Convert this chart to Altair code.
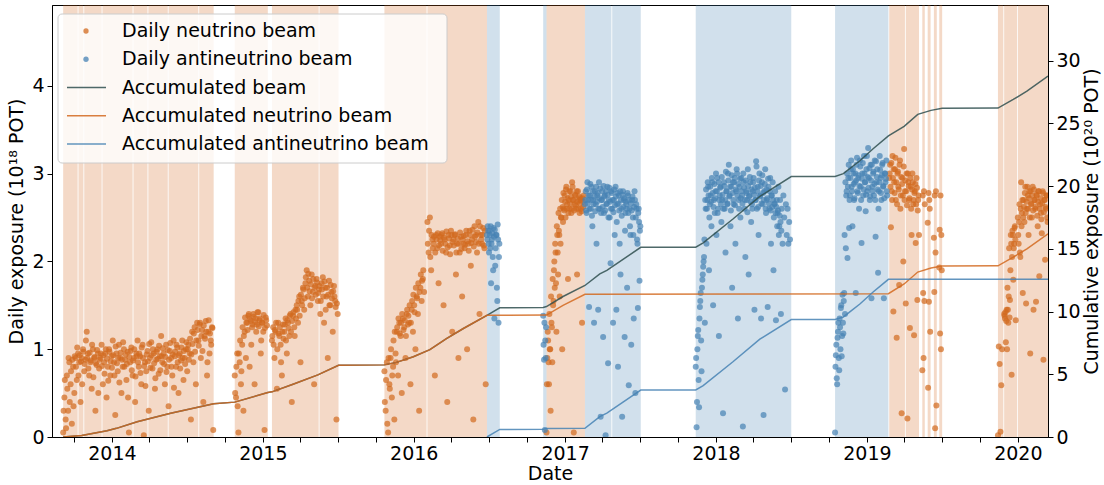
import altair as alt
import pandas as pd

ORANGE = "#d2691e"
BLUE = "#4682b4"
DARK = "#2f4f4f"
FONT = "DejaVu Sans"

# ---------------- shaded beam periods ----------------
nu_band_start = ["2013-09-05", "2013-10-12", "2013-10-26", "2013-12-09", "2014-02-22", "2014-03-30",
                 "2014-05-18", "2014-07-31", "2014-10-25", "2015-01-23", "2015-05-18", "2015-10-22",
                 "2016-02-03", "2016-11-17", "2019-02-24", "2019-04-05", "2019-05-15", "2019-05-28",
                 "2019-06-12", "2019-06-25", "2019-11-14", "2019-11-29", "2020-01-01"]
nu_band_end = ["2013-10-10", "2013-10-24", "2013-12-07", "2014-02-20", "2014-03-28", "2014-05-16",
               "2014-07-29", "2014-09-04", "2015-01-13", "2015-05-16", "2015-07-03", "2016-02-01",
               "2016-06-26", "2017-02-18", "2019-04-03", "2019-05-07", "2019-05-21", "2019-06-04",
               "2019-06-19", "2019-07-02", "2019-11-27", "2019-12-30", "2020-03-14"]
anu_band_start = ["2016-06-26", "2016-11-09", "2017-02-18", "2017-04-25", "2017-11-13", "2018-10-16"]
anu_band_end = ["2016-07-27", "2016-11-17", "2017-04-23", "2017-07-03", "2018-07-02", "2019-02-22"]

# ---------------- daily exposure (1e18 POT) ----------------
nu_o1 = [0.05, 0.45, 0.2, 0.7, 0.3, 0.85, 0.6, 0.15, 0.8, 0.5,
         0.9, 0.65, 0.95, 0.85, 0.4, 0.9, 1.0, 0.75, 0.88, 1.2,
         0.95, 0.7, 0.85, 0.55, 1.0, 0.9, 0.3, 0.82, 0.95, 0.78,
         0.9, 1.05, 0.6, 0.85, 0.95, 0.45, 0.8, 1.0, 0.7, 0.92,
         1.1, 0.85, 0.25, 0.95, 0.75, 1.05, 0.9, 0.5, 0.8, 1.0,
         0.88, 0.65, 0.97, 0.05, 0.85, 1.02, 0.7, 0.9, 0.4, 0.95,
         1.1, 0.8, 0.92, 0.6, 1.05, 0.02, 0.85, 0.75, 0.98, 0.3,
         0.9, 1.08, 0.78, 0.95, 0.55, 0.88, 1.0, 0.72, 0.92, 1.15,
         0.85, 0.95, 0.6, 1.05, 0.8, 0.35, 0.98, 0.9, 0.7, 1.1,
         0.92, 0.8, 1.02, 0.5, 0.95, 0.87, 1.1, 0.65, 0.9, 1.0,
         0.75, 1.05, 0.95, 0.2, 1.2, 0.85, 1.25, 0.6, 1.3, 1.1,
         1.28, 0.9, 1.22, 0.4, 1.15, 1.32, 0.7, 1.2, 0.95, 1.1, 1.25, 0.08]
nu_o1_fill = [0.3, 0.65, 0.1, 0.55, 0.9, 0.4, 0.75, 0.88, 0.35, 0.92,
              0.8, 1.02, 0.7, 0.93, 0.86, 0.6, 0.97, 0.83, 1.1, 0.9,
              0.78, 0.96, 0.87, 1.05, 0.68, 0.91, 0.84, 0.99, 0.5, 0.88,
              0.95, 0.81, 0.93, 0.72, 1.0, 0.89, 0.64, 0.97, 0.86, 0.79,
              0.93, 0.7, 1.03, 0.84, 0.9, 0.62, 0.96, 0.88, 1.08, 0.8,
              0.94, 0.83, 0.45, 0.91, 0.98, 0.76, 0.87, 1.0, 0.69, 0.92,
              0.85, 0.95, 0.73, 1.02, 0.9, 0.81, 0.58, 0.94, 0.86, 1.06,
              0.79, 0.93, 1.0, 0.84, 0.67, 0.97, 0.89, 1.04, 0.76, 0.92,
              1.01, 0.83, 0.91, 0.74, 0.99, 0.88, 1.07, 0.8, 0.94, 0.56,
              0.97, 1.05, 0.85, 0.93, 0.78, 1.02, 0.9, 0.98, 0.83, 1.08,
              1.0, 0.88, 1.12, 0.94, 1.06, 1.18, 0.97, 1.1, 1.22, 1.04,
              1.3, 1.15, 0.98, 1.27, 1.12, 1.2, 0.85, 1.33, 1.18, 1.05, 1.24]
nu_o2a = [0.7, 0.45, 0.95, 0.05, 0.85, 0.6, 1.05, 0.3, 1.2, 0.9, 1.3, 1.38, 0.8, 1.32, 1.25,
          1.4, 0.6, 1.35, 1.28, 1.42, 1.33, 0.95, 1.3, 1.2, 0.08, 1.36, 1.27]
nu_o2a_fill = [0.5, 0.8, 0.35, 0.95, 1.1, 0.75, 1.25, 1.15, 1.36, 1.3, 1.22, 1.4, 1.34, 1.05,
               1.28, 1.37, 1.31, 1.2, 1.42, 1.26, 1.35, 1.1, 1.3, 1.39, 1.24, 1.33]
nu_o2b = [1.1, 1.25, 0.9, 1.2, 0.55, 1.3, 1.15, 1.05, 0.7, 1.28,
          1.2, 1.35, 0.95, 1.3, 1.15, 1.4, 0.4, 1.38, 1.25, 1.45,
          1.5, 1.3, 1.6, 0.85, 1.55, 1.7, 1.45, 1.75, 1.9, 1.6,
          1.78, 1.5, 1.85, 1.65, 0.6, 1.72, 1.8, 1.55, 1.68, 1.4,
          1.75, 1.82, 1.3, 1.7, 1.6, 0.9, 1.78, 1.5, 1.65, 1.2,
          1.72, 1.55, 0.2, 1.4]
nu_o2b_fill = [1.15, 1.05, 1.22, 1.3, 1.0, 1.18, 1.25, 0.85, 1.2, 1.12,
               1.28, 1.1, 1.33, 1.24, 1.38, 1.2, 1.32, 1.42, 1.15, 1.35,
               1.45, 1.55, 1.38, 1.62, 1.5, 1.68, 1.58, 1.82, 1.7, 1.86,
               1.66, 1.74, 1.58, 1.8, 1.7, 1.62, 1.76, 1.64, 1.72, 1.55,
               1.68, 1.6, 1.77, 1.45, 1.7, 1.62, 1.5, 1.73, 1.58, 1.66,
               1.6, 1.48, 1.52]
nu_o3a = [0.75, 0.3, 0.85, 0.05, 0.6, 0.9, 0.45, 0.8, 0.2, 0.95,
          1.2, 0.7, 1.3, 1.15, 0.5, 1.35, 1.25, 0.9, 1.4, 1.28,
          1.3, 0.6, 1.45, 1.2, 1.5, 1.0, 1.6, 1.4, 0.3, 1.7,
          1.55, 1.8, 1.65]
nu_o3a_fill = [0.4, 0.65, 0.15, 0.9, 0.55, 1.0, 0.7, 1.1, 1.2, 0.85, 1.25, 1.35, 1.18, 1.3, 1.4,
               1.22, 1.33, 1.15, 1.45, 1.38, 1.5, 1.3, 1.55, 1.62, 1.42, 1.7, 1.58, 1.75, 1.65,
               1.85, 1.78, 1.9]
nu_o3b = [2.45, 2.1, 2.5, 1.9, 2.25, 2.2, 0.7, 2.3, 2.15, 1.75,
          2.28, 2.2, 2.32, 1.5, 2.25, 2.1, 0.4, 2.3, 2.18, 2.35,
          1.2, 2.25, 2.3, 1.85, 2.2, 0.9, 2.1, 2.28, 1.6, 2.2,
          2.15, 2.3, 1.0, 2.2, 2.35, 1.95, 2.25, 0.2, 2.4, 2.3,
          2.1, 2.45, 1.4, 2.3, 2.2, 2.38, 2.15, 0.6]
nu_o3b_fill = [2.2, 2.35, 2.05, 2.3, 2.15, 2.28, 2.1, 2.25, 2.32, 2.18,
               2.24, 2.3, 2.12, 2.27, 2.2, 2.34, 2.16, 2.26, 2.08, 2.3,
               2.22, 2.18, 2.31, 2.1, 2.26, 2.2, 2.33, 2.14, 2.25, 2.29,
               2.19, 2.35, 2.23, 2.12, 2.3, 2.21, 2.36, 2.17, 2.28, 2.22,
               2.33, 2.2, 2.4, 2.25, 2.3, 2.18, 2.35]
nu_o4 = [0.05, 0.9, 1.1, 0.6, 1.0, 0.3, 1.3, 0.85, 1.5,
         1.9, 1.7, 2.1, 1.2, 2.3, 1.85, 2.35, 1.6, 2.2, 2.5, 1.0, 2.45,
         2.6, 2.75, 2.5, 2.85, 2.65, 1.8, 2.7, 2.6, 2.8, 2.55, 2.9, 2.7, 0.05, 2.65, 2.75, 2.6,
         1.85, 2.8, 2.7, 2.55, 2.72, 2.6, 1.3, 2.68, 2.75]
nu_o4_fill = [0.6, 1.2, 0.85, 1.4, 1.0, 1.6, 1.25, 1.8, 1.55,
              2.0, 2.2, 1.75, 2.4, 2.1, 2.55, 2.3, 2.6, 2.5, 2.7, 2.62, 2.78,
              2.58, 2.68, 2.82, 2.6, 2.72, 2.55, 2.8, 2.66, 2.74, 2.6, 2.85, 2.7, 2.58, 2.76, 2.64,
              2.8, 2.68, 2.6, 2.74, 2.66, 2.7, 2.57, 2.72, 2.62]
nu_o5a = [2.95, 3.1, 2.39, 2.8, 3.2, 1.43, 2.9, 3.05, 2.7, 1.13, 3.0, 2.85, 1.73, 3.15, 2.75, 0.27,
          2.95, 2.0, 3.28, 2.8, 1.52, 3.0, 0.21, 2.9, 2.7, 1.24, 2.85, 2.3, 3.0, 2.65, 1.16, 2.8,
          2.21, 2.95, 1.56, 2.7, 2.3]
nu_o5a_fill = [3.0, 2.85, 3.12, 2.7, 2.95, 3.05, 2.78, 3.18, 2.9, 2.65,
               3.02, 2.82, 3.1, 2.6, 2.96, 2.88, 2.75, 3.08, 2.7, 2.92,
               2.8, 2.64, 3.0, 2.86, 2.72, 2.95, 2.6, 2.82, 2.9, 2.7,
               2.78, 2.88, 2.65, 2.84, 2.58, 2.75]
nu_o5b = [0.76, 2.75, 1.64, 0.9, 2.8, 1.55, 2.65]
nu_o5c = [2.44, 0.56, 2.78, 1.54, 2.7, 2.6, 1.2]
nu_o5d = [2.27, 1.65, 2.75, 0.1, 2.1, 2.8, 0.36]
nu_o5e = [1.93, 2.36, 1.18, 2.75, 1.0, 2.3, 1.9]
nu_o6a = [0.02, 1.03, 0.83, 0.06, 0.59, 1.0]
nu_o6b = [1.4, 1.35, 1.08, 1.45, 1.7, 1.3, 2.15, 1.56, 2.3, 0.71, 2.35, 1.79, 2.2, 2.4, 1.33]
nu_o6b_fill = [1.38, 1.42, 1.32, 1.0, 1.45, 1.6, 1.36, 1.9, 2.2, 2.05, 2.3, 2.15, 2.38, 2.25]
nu_o6c = [2.5, 2.2, 2.65, 2.05, 2.9, 2.55, 1.64, 2.7, 2.45, 2.85, 1.52, 2.6, 2.75, 2.3, 2.8, 0.95,
          2.65, 2.5, 2.85, 1.45, 2.7, 2.6, 1.54, 2.75, 2.4, 2.8, 1.83, 2.65, 2.55, 2.32, 2.8, 0.88,
          2.7, 2.02, 2.6, 2.75, 2.45]
nu_o6c_fill = [2.3, 2.45, 2.1, 2.6, 2.4, 2.7, 2.5, 2.62, 2.78, 2.55,
               2.68, 2.85, 2.6, 2.72, 2.5, 2.8, 2.66, 2.75, 2.58, 2.82,
               2.7, 2.62, 2.76, 2.52, 2.68, 2.8, 2.6, 2.72, 2.48, 2.66,
               2.78, 2.56, 2.7, 2.62, 2.75, 2.5]
nu_seg_start = ["2013-09-05", "2013-09-06", "2014-10-25", "2014-10-26", "2015-01-23", "2015-01-24",
                "2015-10-22", "2015-10-23", "2016-02-03", "2016-02-04", "2016-11-17", "2016-11-18",
                "2019-02-24", "2019-02-25", "2019-05-15", "2019-05-28", "2019-06-12", "2019-06-25",
                "2019-11-14", "2019-11-29", "2019-11-30", "2020-01-01", "2020-01-02"]
nu_seg_step = [3, 3, 3, 3, 3, 3, 3, 3, 3, 3, 2, 2, 2, 2, 1, 1, 1, 1, 2, 2, 2, 2, 2]
nu_seg_vals = [nu_o1, nu_o1_fill, nu_o2a, nu_o2a_fill, nu_o2b, nu_o2b_fill, nu_o3a, nu_o3a_fill,
               nu_o3b, nu_o3b_fill, nu_o4, nu_o4_fill, nu_o5a, nu_o5a_fill, nu_o5b, nu_o5c,
               nu_o5d, nu_o5e, nu_o6a, nu_o6b, nu_o6b_fill, nu_o6c, nu_o6c_fill]

anu_b1 = [2.3, 2.4, 2.2, 2.35, 2.15, 1.75, 2.25, 2.05, 2.38, 1.35, 1.95, 2.3, 1.7, 2.42, 1.3, 2.2]
anu_b1_fill = [2.25, 2.35, 2.1, 2.3, 2.4, 2.2, 2.32, 1.9, 2.28, 2.36, 2.15, 2.3, 1.55, 2.25, 2.05]
anu_b2 = [1.38, 1.05, 0.88, 1.3, 0.08, 1.1, 0.9, 1.25]
anu_b3 = [2.65, 2.8, 2.55, 2.9, 2.7, 1.48, 2.75, 2.6, 2.85, 2.4, 2.7, 1.3, 2.8, 2.65, 2.2, 2.75,
          1.45, 2.9, 2.6, 0.23, 2.7, 2.8, 1.14, 2.55, 2.75, 0.02, 2.65, 2.85, 0.84, 2.7,
          2.5, 1.98, 2.8, 2.6, 1.3, 2.7, 2.3, 2.85, 1.45, 2.65, 0.8, 2.75, 2.2, 1.85, 2.6, 0.23,
          2.8, 2.7, 1.14, 2.55, 2.65, 1.7, 2.75, 0.59, 2.6, 2.3, 1.05, 2.7, 2.5, 1.35, 2.8, 0.5,
          2.65, 2.25, 1.47, 2.6, 1.78, 2.4]
anu_b3_fill = [2.7, 2.58, 2.82, 2.66, 2.75, 2.6, 2.88, 2.7, 2.52, 2.8,
               2.65, 2.74, 2.57, 2.85, 2.68, 2.78, 2.6, 2.72, 2.83, 2.55,
               2.7, 2.62, 2.86, 2.74, 2.58, 2.8, 2.66, 2.76, 2.5, 2.84,
               2.68, 2.6, 2.78, 2.7, 2.56, 2.82, 2.64, 2.74, 2.45, 2.78,
               2.66, 2.58, 2.8, 2.7, 2.52, 2.76, 2.62, 2.72, 2.35, 2.68,
               2.6, 2.78, 2.55, 2.7, 2.4, 2.66, 2.58, 2.74, 2.3, 2.62,
               2.7, 2.5, 2.6, 2.2, 2.55, 2.45, 2.35]
anu_b4 = [0.8, 0.11, 1.0, 1.22, 0.34, 1.48, 1.64, 0.75, 1.79, 1.94, 2.05, 1.3,
          2.6, 2.2, 2.7, 2.85, 1.9, 2.65, 2.75, 2.4, 2.9, 1.5, 2.7, 2.55, 2.8, 2.3, 2.95, 2.6,
          1.15, 2.75, 2.85, 2.45, 2.7, 0.27, 2.9, 2.6, 2.1, 2.8, 2.65, 3.0,
          3.1, 2.75, 2.4, 2.85, 1.7, 2.9, 2.65, 2.95, 2.2, 2.8, 3.0, 1.35, 2.7, 2.85, 2.5, 2.95,
          2.75, 0.12, 2.9, 2.6, 2.05, 2.8, 2.7, 3.05, 1.85, 2.75, 2.9, 2.45, 2.65,
          2.8, 2.95, 1.45, 2.7, 3.14, 2.6, 2.85, 2.3, 3.0, 2.75, 1.35, 2.9, 2.65, 0.25, 2.8, 3.05,
          2.55, 2.7, 1.48, 2.85, 2.6, 2.95, 2.2, 2.75, 2.9, 1.9, 2.65, 2.8, 1.33, 2.7,
          2.55, 2.85, 2.4, 2.7, 1.4, 2.6, 2.2, 2.75, 2.5, 0.54, 2.65, 2.3, 2.6, 2.2, 2.45, 2.25]
anu_b4_fill = [0.9, 0.4, 1.15, 0.65, 1.35, 1.55, 1.1, 1.7, 1.85, 2.0, 2.25,
               2.7, 2.82, 2.6, 2.9, 2.75, 2.5, 2.85, 2.68, 2.95, 2.78,
               2.62, 2.88, 2.72, 3.0, 2.8, 2.55, 2.9, 2.7, 2.84, 2.65,
               2.96, 2.76, 2.6, 2.86, 2.7, 3.02, 2.8, 2.66, 2.92, 2.74,
               2.85, 2.58, 2.98, 2.78, 2.7, 2.9, 2.64, 2.82, 3.05, 2.75,
               2.88, 2.6, 2.94, 2.72, 2.8, 2.66, 3.0, 2.84, 2.7, 2.92,
               2.78, 2.56, 2.86, 2.74, 2.96, 2.68, 2.82, 2.6, 2.9, 2.76,
               2.84, 2.7, 3.08, 2.8, 2.62, 2.92, 2.74, 2.86, 2.66, 2.98,
               2.78, 2.7, 2.88, 2.6, 2.82, 2.72, 2.94, 2.66, 2.8, 2.58,
               2.75, 2.62, 2.7, 2.5, 2.66, 2.55, 2.62, 2.4, 2.58, 2.3,
               2.52, 2.45, 2.35]
anu_b5 = [0.05, 0.93, 0.67, 1.13, 1.3, 0.76, 1.25, 1.47, 0.92, 1.62, 1.18, 1.64, 1.4,
          2.15, 2.8, 2.04, 2.95, 2.38, 2.75, 3.05, 2.85, 2.4, 3.0, 2.7, 2.9, 1.64, 3.1, 2.8, 2.95,
          2.6, 3.15, 2.85, 2.21, 3.0, 2.75, 3.2, 2.9, 2.57, 3.05,
          2.8, 3.29, 2.95, 2.7, 3.1, 1.58, 2.85, 3.0, 2.75, 3.15, 2.28, 2.9, 3.05, 1.87, 2.8, 3.2,
          2.95, 2.7, 3.1, 2.85, 1.58, 3.0, 2.9, 3.15, 2.75]
anu_b5_fill = [0.8, 1.05, 0.6, 1.2, 0.9, 1.35, 1.0, 1.5, 1.15, 1.3, 1.55, 2.3,
               2.9, 2.75, 3.0, 2.85, 3.1, 2.7, 2.95, 3.15, 2.8, 3.05,
               2.88, 2.72, 3.0, 2.92, 3.18, 2.78, 2.98, 2.86, 3.08, 2.7,
               2.94, 3.12, 2.82, 3.0, 2.9, 2.76, 3.2, 2.96, 2.84, 3.06,
               2.74, 2.92, 3.1, 2.8, 3.02, 2.88, 2.7, 3.14, 2.96, 2.82, 2.6,
               2.9, 3.04, 2.78, 2.98, 3.12, 2.86, 2.72, 3.0, 2.94, 2.8]
anu_seg_start = ["2016-06-26", "2016-06-27", "2016-11-09", "2017-02-18", "2017-02-19",
                 "2017-11-13", "2017-11-14", "2018-10-16", "2018-10-17"]
anu_seg_step = [2, 2, 1, 2, 2, 2, 2, 2, 2]
anu_seg_vals = [anu_b1, anu_b1_fill, anu_b2, anu_b3, anu_b3_fill, anu_b4, anu_b4_fill,
                anu_b5, anu_b5_fill]

# ---------------- accumulated exposure (1e20 POT) ----------------
nu_cum_dates = ["2013-09-05", "2013-10-20", "2013-12-20", "2014-01-12", "2014-03-03", "2014-05-23",
                "2014-09-04", "2014-10-25", "2015-01-13", "2015-01-23", "2015-03-15", "2015-05-14",
                "2015-07-03", "2015-10-22", "2015-11-20", "2015-12-31", "2016-02-09", "2016-03-20",
                "2016-04-30", "2016-06-26", "2016-11-17", "2016-12-27", "2017-02-18", "2019-02-22",
                "2019-04-01", "2019-05-04", "2019-06-05", "2019-07-02", "2019-11-14", "2019-12-21",
                "2020-01-23", "2020-03-14"]
nu_cum = [0.0, 0.12, 0.5, 0.69, 1.22, 1.89, 2.65, 2.78, 3.55, 3.6, 4.2, 4.95, 5.72, 5.75, 5.95,
          6.4, 6.97, 7.85, 8.65, 9.7, 9.72, 10.5, 11.38, 11.42, 12.2, 13.15, 13.47, 13.63, 13.65,
          14.34, 15.0, 16.2]
anu_cum_dates = ["2016-06-26", "2016-07-27", "2016-11-09", "2016-11-17", "2017-02-18", "2017-03-26",
                 "2017-04-12", "2017-05-22", "2017-07-03", "2017-11-13", "2017-12-01", "2018-02-11",
                 "2018-04-17", "2018-07-02", "2018-10-16", "2018-11-05", "2018-12-15", "2019-01-16",
                 "2019-02-22", "2020-03-14"]
anu_cum = [0.0, 0.6, 0.62, 0.68, 0.7, 1.62, 1.9, 2.8, 3.74, 3.75, 4.1, 6.0, 7.8, 9.36, 9.37, 9.57,
           10.6, 11.56, 12.57, 12.57]
tot_cum_dates = nu_cum_dates[:20] + [
    "2016-07-27", "2016-11-09", "2016-11-17", "2016-12-27", "2017-02-18", "2017-03-26",
    "2017-04-12", "2017-05-22", "2017-07-03", "2017-11-13", "2017-12-01", "2018-02-11",
    "2018-04-17", "2018-07-02", "2018-10-16", "2018-11-05", "2018-12-15", "2019-01-16",
    "2019-02-22", "2019-04-01", "2019-05-04", "2019-06-05", "2019-07-02", "2019-11-14",
    "2019-12-21", "2020-01-23", "2020-03-14"]
tot_cum = nu_cum[:20] + [10.3, 10.32, 10.4, 11.2, 12.08, 13.0, 13.28, 14.18, 15.12, 15.13, 15.48,
                         17.38, 19.18, 20.76, 20.77, 21.0, 22.02, 22.98, 24.0, 24.77, 25.72,
                         26.04, 26.2, 26.22, 26.91, 27.57, 28.77]

legend_labels = ["Daily neutrino beam", "Daily antineutrino beam", "Accumulated beam",
                 "Accumulated neutrino beam", "Accumulated antineutrino beam"]
legend_colors = [ORANGE, BLUE, DARK, ORANGE, BLUE]
legend_kind = ["point", "point", "line", "line", "line"]

x_ticks = [f"{y}-{m:02d}-01" for y in range(2013, 2021) for m in (1, 4, 7, 10)
           if "2013-10-01" <= f"{y}-{m:02d}-01" <= "2020-01-01"]

# ---------------- frames ----------------
def seg_frame(starts, steps, vals_list, color):
    frames = []
    for s, st, v in zip(starts, steps, vals_list):
        d = pd.date_range(s, periods=len(v), freq=f"{st}D")
        frames.append(pd.DataFrame({"date": d, "value": v, "col": color}))
    return pd.concat(frames, ignore_index=True)

points_df = pd.concat([seg_frame(nu_seg_start, nu_seg_step, nu_seg_vals, ORANGE),
                       seg_frame(anu_seg_start, anu_seg_step, anu_seg_vals, BLUE)],
                      ignore_index=True)

bands_df = pd.concat([
    pd.DataFrame({"start": pd.to_datetime(nu_band_start), "end": pd.to_datetime(nu_band_end), "col": ORANGE}),
    pd.DataFrame({"start": pd.to_datetime(anu_band_start), "end": pd.to_datetime(anu_band_end), "col": BLUE}),
], ignore_index=True)

tot_df = pd.DataFrame({"date": pd.to_datetime(tot_cum_dates), "cum": tot_cum})
nu_df = pd.DataFrame({"date": pd.to_datetime(nu_cum_dates), "cum": nu_cum})
anu_df = pd.DataFrame({"date": pd.to_datetime(anu_cum_dates), "cum": anu_cum})

leg_df = pd.DataFrame({"label": legend_labels, "col": legend_colors, "kind": legend_kind,
                       "i": list(range(len(legend_labels)))})

# ---------------- scales / axes ----------------
xscale = alt.Scale(domain=[alt.DateTime(year=2013, month=8, date=9),
                           alt.DateTime(year=2020, month=3, date=14)], nice=False)
xaxis = alt.Axis(title="Date",
                 values=[alt.DateTime(year=int(t[:4]), month=int(t[5:7]), date=1) for t in x_ticks],
                 labelExpr="month(datum.value) === 0 ? timeFormat(datum.value, '%Y') : ''",
                 labelPadding=2, titlePadding=1, labelFlush=False, labelOverlap=False)
yl_scale = alt.Scale(domain=[0, 4.92], nice=False, zero=True)
yl_axis = alt.Axis(orient="left", values=[0, 1, 2, 3, 4], format="d",
                   title="Daily exposure (10¹⁸ POT)", titlePadding=5, labelPadding=3)
yr_scale = alt.Scale(domain=[0, 34.44], nice=False, zero=True)
yr_axis = alt.Axis(orient="right", values=[0, 5, 10, 15, 20, 25, 30], format="d",
                   title="Cumulative exposure (10²⁰ POT)", titleAngle=270, titleBaseline="top",
                   titlePadding=2, labelPadding=3)

bands = alt.Chart(bands_df).mark_rect(opacity=0.25, clip=True).encode(
    x=alt.X("start:T", scale=xscale, axis=xaxis),
    x2="end:T",
    color=alt.Color("col:N", scale=None),
)

points = alt.Chart(points_df).mark_circle(size=36, opacity=0.7, clip=True).encode(
    x=alt.X("date:T", scale=xscale, axis=xaxis),
    y=alt.Y("value:Q", scale=yl_scale, axis=yl_axis),
    color=alt.Color("col:N", scale=None),
)

def cum_line(df, color):
    return alt.Chart(df).mark_line(color=color, strokeWidth=1.5, opacity=0.85, clip=True).encode(
        x=alt.X("date:T", scale=xscale, axis=xaxis),
        y=alt.Y("cum:Q", scale=yr_scale, axis=yr_axis),
    )

lines = alt.layer(cum_line(tot_df, DARK), cum_line(nu_df, ORANGE), cum_line(anu_df, BLUE))

leg_box = alt.Chart(pd.DataFrame({"a": [0]})).mark_rect(
    fill="white", fillOpacity=0.8, stroke="#cccccc", strokeWidth=1, cornerRadius=4
).encode(x=alt.value(6), x2=alt.value(395), y=alt.value(9), y2=alt.value(158))

leg_base = alt.Chart(leg_df).transform_calculate(ly="26 + datum.i * 28.25")
leg_pts = leg_base.transform_filter("datum.kind == 'point'").mark_circle(size=28, opacity=0.75).encode(
    x=alt.value(34),
    y=alt.Y("ly:Q", scale=None, axis=None),
    color=alt.Color("col:N", scale=None),
)
leg_lines = leg_base.transform_filter("datum.kind == 'line'").mark_rule(strokeWidth=1.5, opacity=0.85).encode(
    x=alt.value(15), x2=alt.value(54),
    y=alt.Y("ly:Q", scale=None, axis=None),
    color=alt.Color("col:N", scale=None),
)
leg_text = leg_base.mark_text(align="left", baseline="middle", font=FONT, fontSize=19,
                              color="black").encode(
    x=alt.value(70),
    y=alt.Y("ly:Q", scale=None, axis=None),
    text="label:N",
)

chart = alt.layer(bands, points, lines, leg_box, leg_lines, leg_pts, leg_text).resolve_scale(
    y="independent"
).properties(
    width=996, height=432,
    autosize=alt.AutoSizeParams(type="none"),
    padding={"left": 52, "top": 5, "right": 56, "bottom": 48},
).configure_view(
    stroke="black", strokeWidth=1
).configure_axis(
    labelFont=FONT, titleFont=FONT, labelFontSize=19, titleFontSize=19,
    labelColor="black", titleColor="black", tickColor="black", domainColor="black",
    tickSize=5, grid=False, titleFontWeight="normal", domainWidth=1, tickWidth=1
)

chart.save("out.html", embed_options={"renderer": "svg", "actions": False})
